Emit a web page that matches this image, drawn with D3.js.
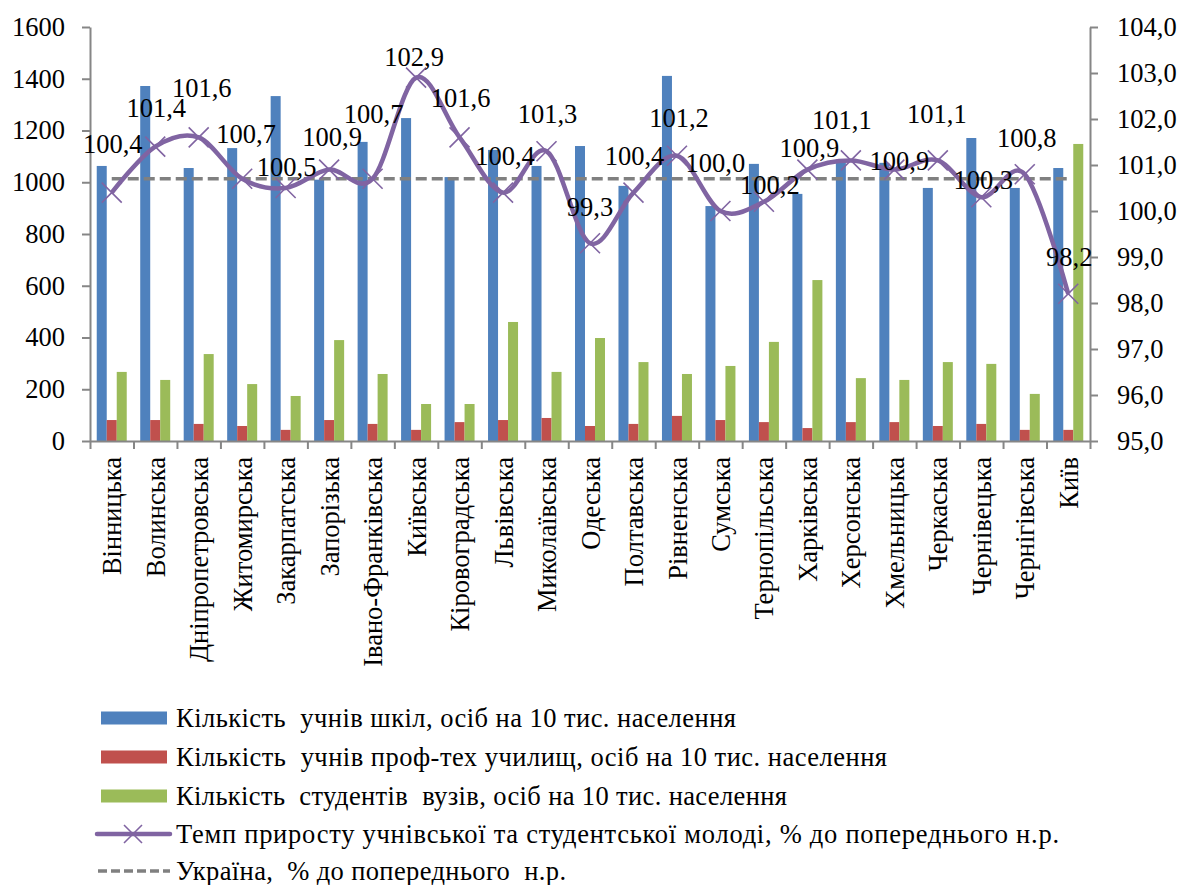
<!DOCTYPE html>
<html>
<head>
<meta charset="utf-8">
<script src="https://cdn.jsdelivr.net/npm/d3@7"></script>
<style>
  html, body { margin: 0; padding: 0; background: #ffffff; }
  svg { display: block; }
</style>
</head>
<body>
<svg id="chart" width="1183" height="885" font-family="Liberation Serif"></svg>
<script>
const categories = ["Вінницька","Волинська","Дніпропетровська","Житомирська","Закарпатська","Запорізька","Івано-Франківська","Київська","Кіровоградська","Львівська","Миколаївська","Одеська","Полтавська","Рівненська","Сумська","Тернопільська","Харківська","Херсонська","Хмельницька","Черкаська","Чернівецька","Чернігівська","Київ"];
const schools = [1063,1372,1055,1132,1333,1010,1156,1248,1020,1125,1063,1140,986,1411,908,1071,955,1088,1075,978,1171,978,1055];
const vocational = [81,81,66,58,43,81,66,43,73,81,89,58,66,97,81,73,50,73,73,58,66,43,43];
const students = [267,236,336,220,174,390,259,143,143,460,267,398,305,259,290,383,622,243,236,305,298,182,1148];
const growth = [100.4,101.4,101.6,100.7,100.5,100.9,100.7,102.9,101.6,100.4,101.3,99.3,100.4,101.2,100.0,100.2,100.9,101.1,100.9,101.1,100.3,100.8,98.2];
const ukraine = 100.7;
const leftTicks = [0,200,400,600,800,1000,1200,1400,1600];
const rightTicks = [95,96,97,98,99,100,101,102,103,104];
const seriesNames = ["Кількість  учнів шкіл, осіб на 10 тис. населення","Кількість  учнів проф-тех училищ, осіб на 10 тис. населення","Кількість  студентів  вузів, осіб на 10 тис. населення","Темп приросту учнівської та студентської молоді, % до попереднього н.р.","Україна,  % до попереднього  н.р."];

// presentation-only settings
const labelDx = [1,1,3,4,1,3,1,-2,1,2,1,0,1,2,-5,6,2,-9,5,-1,2,2,1];
const labelDy = [-40,-30,-40,-36,-12,-24,-56,-12,-30,-28,-28,-27,-28,-29,-39,-8,-13,-31,0,-37,-8,-27,-28];
const legendTextLen = [560, 711, 611, 883, 390];

const colors = ["#4F81BD","#C0504D","#9BBB59"];
const lineColor = "#8064A2";
const axisColor = "#868686";
const FS = 26.5;
const FF = "Liberation Serif";

const svg = d3.select("#chart");
const pL = 90, pR = 1090, pT = 27, pB = 441;

const x = d3.scaleBand().domain(categories).range([pL, pR]).padding(0);
const bw = x.bandwidth();
const groupW = 30;
const x1 = d3.scaleBand().domain([0,1,2]).range([(bw-groupW)/2, (bw+groupW)/2]).padding(0);
const yL = d3.scaleLinear().domain([0,1600]).range([pB, pT]);
const yR = d3.scaleLinear().domain([95,104]).range([pB, pT]);
const xTick = d3.scaleLinear().domain([0, categories.length]).range([pL, pR]);

// bars
const barData = [schools, vocational, students];
barData.forEach((arr, s) => {
  svg.append("g").selectAll("rect").data(arr).join("rect")
    .attr("x", (d,i) => x(categories[i]) + x1(s))
    .attr("width", x1.bandwidth())
    .attr("y", d => yL(d))
    .attr("height", d => yL(0) - yL(d))
    .attr("fill", colors[s]);
});

// axes
const fmtR = v => d3.format(".1f")(v).replace(".", ",");
const gL = svg.append("g").attr("transform", `translate(${pL},0)`)
  .call(d3.axisLeft(yL).tickValues(leftTicks).tickFormat(d3.format("d")).tickSize(8).tickPadding(17).tickSizeOuter(0));
const gR = svg.append("g").attr("transform", `translate(${pR},0)`)
  .call(d3.axisRight(yR).tickValues(rightTicks).tickFormat(fmtR).tickSize(8).tickPadding(19).tickSizeOuter(0));
const gB = svg.append("g").attr("transform", `translate(0,${pB})`)
  .call(d3.axisBottom(xTick).tickValues(d3.range(categories.length + 1)).tickFormat("").tickSize(8).tickSizeOuter(0));
[gL, gR, gB].forEach(g => {
  g.attr("font-family", FF).attr("font-size", FS);
  g.select(".domain").attr("stroke", axisColor).attr("stroke-width", 2);
  g.selectAll(".tick line").attr("stroke", axisColor).attr("stroke-width", 2);
  g.selectAll("text").attr("font-size", FS).attr("font-family", FF).attr("fill", "#000");
});

// category labels
svg.append("g").selectAll("text").data(categories).join("text")
  .attr("transform", d => `translate(${x(d) + bw/2},${pB + 16}) rotate(-90)`)
  .attr("text-anchor", "end")
  .attr("dy", "0.36em")
  .attr("font-family", FF)
  .attr("font-size", FS)
  .text(d => d);

// Ukraine dashed line
svg.append("line")
  .attr("x1", x(categories[0]) + bw/2).attr("x2", x(categories[categories.length-1]) + bw/2)
  .attr("y1", yR(ukraine)).attr("y2", yR(ukraine))
  .attr("stroke", "#808080").attr("stroke-width", 3.5).attr("stroke-dasharray", "11,5");

// growth line
const line = d3.line()
  .x((d,i) => x(categories[i]) + bw/2)
  .y(d => yR(d))
  .curve(d3.curveCardinal.tension(0));
svg.append("path").datum(growth)
  .attr("d", line).attr("fill", "none")
  .attr("stroke", lineColor).attr("stroke-width", 4.5).attr("stroke-linejoin", "round");

// markers
const ms = 10;
const mk = svg.append("g");
growth.forEach((d,i) => {
  const cx = x(categories[i]) + bw/2, cy = yR(d);
  mk.append("path")
    .attr("d", `M${cx-ms},${cy-ms}L${cx+ms},${cy+ms}M${cx-ms},${cy+ms}L${cx+ms},${cy-ms}`)
    .attr("stroke", lineColor).attr("stroke-width", 1.6).attr("fill", "none");
});

// data labels
svg.append("g").selectAll("text").data(growth).join("text")
  .attr("x", (d,i) => x(categories[i]) + bw/2 + labelDx[i])
  .attr("y", (d,i) => yR(d) + labelDy[i])
  .attr("text-anchor", "middle")
  .attr("font-family", FF)
  .attr("font-size", FS)
  .text(d => fmtR(d));

// legend
const lg = svg.append("g");
const legX = 101, rowY = [718, 757, 796, 834, 871];
[0,1,2].forEach(s => {
  lg.append("rect").attr("x", legX).attr("y", rowY[s] - 6.5).attr("width", 66).attr("height", 13).attr("fill", colors[s]);
});
lg.append("line").attr("x1", 97).attr("x2", 170).attr("y1", rowY[3]).attr("y2", rowY[3])
  .attr("stroke", lineColor).attr("stroke-width", 4.5).attr("stroke-linecap", "round");
lg.append("path")
  .attr("d", `M${133-9},${rowY[3]-9}L${133+9},${rowY[3]+9}M${133-9},${rowY[3]+9}L${133+9},${rowY[3]-9}`)
  .attr("stroke", lineColor).attr("stroke-width", 1.6);
lg.append("line").attr("x1", 98).attr("x2", 170).attr("y1", rowY[4]).attr("y2", rowY[4])
  .attr("stroke", "#808080").attr("stroke-width", 3.5).attr("stroke-dasharray", "9,4");
lg.selectAll("text.leg").data(seriesNames).join("text")
  .attr("class", "leg")
  .attr("x", 176)
  .attr("y", (d,i) => rowY[i] + 9)
  .attr("font-family", FF)
  .attr("font-size", FS)
  .attr("textLength", (d,i) => legendTextLen[i])
  .attr("lengthAdjust", "spacing")
  .style("white-space", "pre")
  .text(d => d);
</script>
</body>
</html>
